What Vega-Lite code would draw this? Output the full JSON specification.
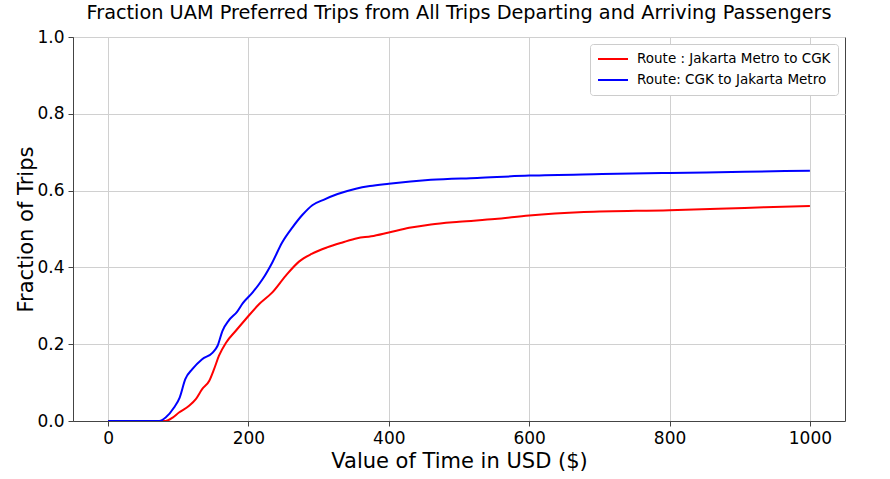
{
  "$schema": "https://vega.github.io/schema/vega-lite/v6.json",
  "description": "Fraction of UAM preferred trips vs value of time, two routes.",
  "autosize": {"type": "none"},
  "padding": {"left": 73, "top": 37, "right": 45, "bottom": 58},
  "width": 772,
  "height": 384,
  "title": {
    "text": "Fraction UAM Preferred Trips from All Trips Departing and Arriving Passengers",
    "font": "DejaVu Sans",
    "fontSize": 19.3,
    "fontWeight": "normal",
    "color": "black",
    "anchor": "middle",
    "offset": 5
  },
  "data": {
    "values": [
      {"route": "Route : Jakarta Metro to CGK", "vot": 0, "frac": 0},
      {"route": "Route : Jakarta Metro to CGK", "vot": 40, "frac": 0},
      {"route": "Route : Jakarta Metro to CGK", "vot": 82, "frac": 0},
      {"route": "Route : Jakarta Metro to CGK", "vot": 92, "frac": 0.009},
      {"route": "Route : Jakarta Metro to CGK", "vot": 101, "frac": 0.022},
      {"route": "Route : Jakarta Metro to CGK", "vot": 115, "frac": 0.039},
      {"route": "Route : Jakarta Metro to CGK", "vot": 125, "frac": 0.057},
      {"route": "Route : Jakarta Metro to CGK", "vot": 134, "frac": 0.083},
      {"route": "Route : Jakarta Metro to CGK", "vot": 144, "frac": 0.104},
      {"route": "Route : Jakarta Metro to CGK", "vot": 151, "frac": 0.135},
      {"route": "Route : Jakarta Metro to CGK", "vot": 158, "frac": 0.17},
      {"route": "Route : Jakarta Metro to CGK", "vot": 168, "frac": 0.204},
      {"route": "Route : Jakarta Metro to CGK", "vot": 182, "frac": 0.235},
      {"route": "Route : Jakarta Metro to CGK", "vot": 196, "frac": 0.265},
      {"route": "Route : Jakarta Metro to CGK", "vot": 215, "frac": 0.304},
      {"route": "Route : Jakarta Metro to CGK", "vot": 234, "frac": 0.335},
      {"route": "Route : Jakarta Metro to CGK", "vot": 253, "frac": 0.378},
      {"route": "Route : Jakarta Metro to CGK", "vot": 272, "frac": 0.415},
      {"route": "Route : Jakarta Metro to CGK", "vot": 290, "frac": 0.435},
      {"route": "Route : Jakarta Metro to CGK", "vot": 312, "frac": 0.452},
      {"route": "Route : Jakarta Metro to CGK", "vot": 334, "frac": 0.465},
      {"route": "Route : Jakarta Metro to CGK", "vot": 355, "frac": 0.476},
      {"route": "Route : Jakarta Metro to CGK", "vot": 375, "frac": 0.481},
      {"route": "Route : Jakarta Metro to CGK", "vot": 400, "frac": 0.491},
      {"route": "Route : Jakarta Metro to CGK", "vot": 429, "frac": 0.503},
      {"route": "Route : Jakarta Metro to CGK", "vot": 460, "frac": 0.512},
      {"route": "Route : Jakarta Metro to CGK", "vot": 500, "frac": 0.519},
      {"route": "Route : Jakarta Metro to CGK", "vot": 551, "frac": 0.526},
      {"route": "Route : Jakarta Metro to CGK", "vot": 600, "frac": 0.535},
      {"route": "Route : Jakarta Metro to CGK", "vot": 678, "frac": 0.544},
      {"route": "Route : Jakarta Metro to CGK", "vot": 800, "frac": 0.549},
      {"route": "Route : Jakarta Metro to CGK", "vot": 907, "frac": 0.555},
      {"route": "Route : Jakarta Metro to CGK", "vot": 1000, "frac": 0.56},
      {"route": "Route: CGK to Jakarta Metro", "vot": 0, "frac": 0},
      {"route": "Route: CGK to Jakarta Metro", "vot": 40, "frac": 0},
      {"route": "Route: CGK to Jakarta Metro", "vot": 73, "frac": 0},
      {"route": "Route: CGK to Jakarta Metro", "vot": 82, "frac": 0.009},
      {"route": "Route: CGK to Jakarta Metro", "vot": 94, "frac": 0.035},
      {"route": "Route: CGK to Jakarta Metro", "vot": 102, "frac": 0.061},
      {"route": "Route: CGK to Jakarta Metro", "vot": 110, "frac": 0.109},
      {"route": "Route: CGK to Jakarta Metro", "vot": 120, "frac": 0.135},
      {"route": "Route: CGK to Jakarta Metro", "vot": 134, "frac": 0.161},
      {"route": "Route: CGK to Jakarta Metro", "vot": 149, "frac": 0.178},
      {"route": "Route: CGK to Jakarta Metro", "vot": 156, "frac": 0.196},
      {"route": "Route: CGK to Jakarta Metro", "vot": 163, "frac": 0.235},
      {"route": "Route: CGK to Jakarta Metro", "vot": 172, "frac": 0.262},
      {"route": "Route: CGK to Jakarta Metro", "vot": 184, "frac": 0.285},
      {"route": "Route: CGK to Jakarta Metro", "vot": 192, "frac": 0.307},
      {"route": "Route: CGK to Jakarta Metro", "vot": 206, "frac": 0.335},
      {"route": "Route: CGK to Jakarta Metro", "vot": 220, "frac": 0.369},
      {"route": "Route: CGK to Jakarta Metro", "vot": 234, "frac": 0.413},
      {"route": "Route: CGK to Jakarta Metro", "vot": 248, "frac": 0.465},
      {"route": "Route: CGK to Jakarta Metro", "vot": 263, "frac": 0.505},
      {"route": "Route: CGK to Jakarta Metro", "vot": 277, "frac": 0.537},
      {"route": "Route: CGK to Jakarta Metro", "vot": 291, "frac": 0.562},
      {"route": "Route: CGK to Jakarta Metro", "vot": 307, "frac": 0.576},
      {"route": "Route: CGK to Jakarta Metro", "vot": 327, "frac": 0.591},
      {"route": "Route: CGK to Jakarta Metro", "vot": 353, "frac": 0.605},
      {"route": "Route: CGK to Jakarta Metro", "vot": 373, "frac": 0.612},
      {"route": "Route: CGK to Jakarta Metro", "vot": 400, "frac": 0.618},
      {"route": "Route: CGK to Jakarta Metro", "vot": 460, "frac": 0.628},
      {"route": "Route: CGK to Jakarta Metro", "vot": 526, "frac": 0.633},
      {"route": "Route: CGK to Jakarta Metro", "vot": 600, "frac": 0.639},
      {"route": "Route: CGK to Jakarta Metro", "vot": 704, "frac": 0.643},
      {"route": "Route: CGK to Jakarta Metro", "vot": 800, "frac": 0.646},
      {"route": "Route: CGK to Jakarta Metro", "vot": 907, "frac": 0.649},
      {"route": "Route: CGK to Jakarta Metro", "vot": 1000, "frac": 0.652}
    ]
  },
  "mark": {"type": "line", "strokeWidth": 2, "interpolate": "monotone", "clip": true},
  "encoding": {
    "x": {
      "field": "vot",
      "type": "quantitative",
      "title": "Value of Time in USD ($)",
      "scale": {"domain": [-50, 1050], "nice": false, "zero": false},
      "axis": {"values": [0, 200, 400, 600, 800, 1000], "format": "d", "titlePadding": 4}
    },
    "y": {
      "field": "frac",
      "type": "quantitative",
      "title": "Fraction of Trips",
      "scale": {"domain": [0, 1], "nice": false},
      "axis": {"values": [0, 0.2, 0.4, 0.6, 0.8, 1.0], "format": ".1f", "titlePadding": 0}
    },
    "color": {
      "field": "route",
      "type": "nominal",
      "sort": null,
      "scale": {
        "domain": ["Route : Jakarta Metro to CGK", "Route: CGK to Jakarta Metro"],
        "range": ["#ff0000", "#0000ff"]
      },
      "legend": {
        "title": null,
        "orient": "top-right",
        "offset": 7,
        "padding": 7,
        "fillColor": "white",
        "strokeColor": "#cccccc",
        "cornerRadius": 3,
        "symbolType": "stroke",
        "symbolSize": 900,
        "symbolStrokeWidth": 2,
        "clipHeight": 16,
        "labelFontSize": 13.5,
        "labelFont": "DejaVu Sans",
        "labelColor": "black",
        "labelLimit": 400,
        "labelOffset": 8,
        "rowPadding": 5
      }
    }
  },
  "config": {
    "view": {"stroke": "#444444", "strokeWidth": 1},
    "axis": {
      "labelFont": "DejaVu Sans",
      "titleFont": "DejaVu Sans",
      "labelFontSize": 17,
      "titleFontSize": 21,
      "titleFontWeight": "normal",
      "labelColor": "black",
      "titleColor": "black",
      "domainColor": "#444444",
      "tickColor": "#444444",
      "tickSize": 5,
      "labelPadding": 4,
      "grid": true,
      "gridColor": "#d0d0d0",
      "gridWidth": 1
    }
  }
}
